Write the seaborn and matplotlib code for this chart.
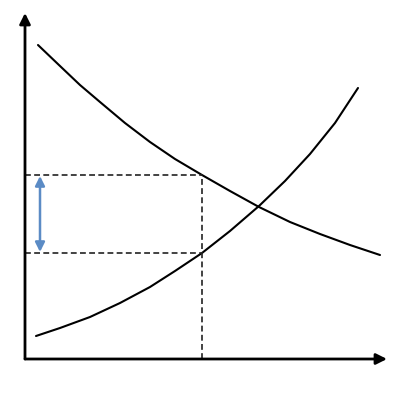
import matplotlib
matplotlib.use("Agg")
import matplotlib.pyplot as plt
import seaborn as sns
import pandas as pd

sns.set_theme(style="white")

# Demand curve (downward sloping)
demand_q = [13, 35, 55, 75, 100, 125, 150, 177, 205, 234, 265, 295, 325, 355]
demand_p = [314, 293, 274, 257, 236, 217, 200, 184, 168, 152, 137, 125, 114, 104]

# Supply curve (upward sloping)
supply_q = [11, 35, 65, 95, 125, 150, 177, 205, 234, 260, 285, 310, 333]
supply_p = [23, 31, 42, 56, 72, 88, 106, 128, 153, 178, 205, 236, 271]

# Reference levels
quantity_level = 177
price_high = 184
price_low = 106
arrow_q = 15

x_max = 362
y_max = 346

fig = plt.figure(figsize=(4, 4), dpi=100)
ax = fig.add_axes([25 / 400, 41 / 400, (387 - 25) / 400, (359 - 13) / 400])

df_d = pd.DataFrame({"q": demand_q, "p": demand_p})
df_s = pd.DataFrame({"q": supply_q, "p": supply_p})
sns.lineplot(data=df_d, x="q", y="p", sort=False, color="black", lw=1.5, ax=ax)
sns.lineplot(data=df_s, x="q", y="p", sort=False, color="black", lw=1.5, ax=ax)

# dashed guides
dash = (0, (3.5, 2))
ax.plot([0, quantity_level], [price_high, price_high], ls=dash, color="#222222", lw=1.2)
ax.plot([0, quantity_level], [price_low, price_low], ls=dash, color="#222222", lw=1.2)
ax.plot([quantity_level, quantity_level], [0, price_high], ls=dash, color="#222222", lw=1.2)

# blue double arrow
ax.annotate("", xy=(arrow_q, price_high - 1), xytext=(arrow_q, price_low + 1),
            arrowprops=dict(arrowstyle="<|-|>", color="#5B8BC5", lw=1.8,
                            mutation_scale=14, shrinkA=0, shrinkB=0))

ax.set_xlim(0, x_max)
ax.set_ylim(0, y_max)
ax.set_xticks([])
ax.set_yticks([])
ax.set_xlabel("")
ax.set_ylabel("")
for s in ax.spines.values():
    s.set_visible(False)

# axes with arrow heads
ax.annotate("", xy=(x_max, 0), xytext=(0, 0),
            arrowprops=dict(arrowstyle="-|>", color="black", lw=2,
                            mutation_scale=16, shrinkA=0, shrinkB=0),
            annotation_clip=False)
ax.annotate("", xy=(0, y_max), xytext=(0, 0),
            arrowprops=dict(arrowstyle="-|>", color="black", lw=2,
                            mutation_scale=16, shrinkA=0, shrinkB=0),
            annotation_clip=False)

fig.savefig("out.png", dpi=100, facecolor="white")
